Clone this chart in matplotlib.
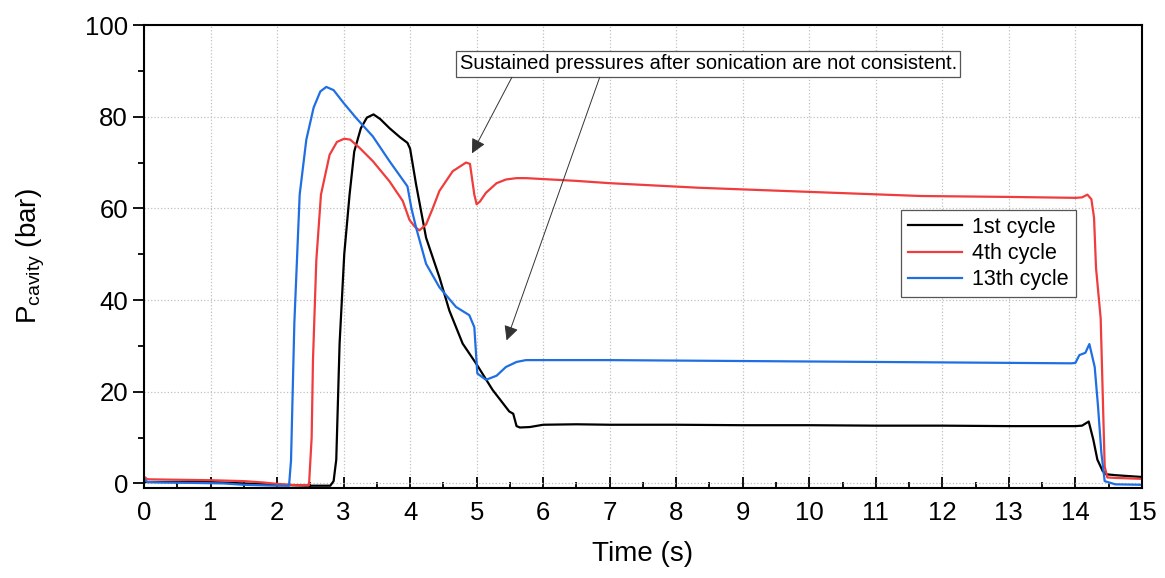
"""
Cavity pressure vs time for three sonication cycles.
"""

import matplotlib
matplotlib.use('Agg')

import matplotlib.pyplot as plt
from matplotlib.ticker import MultipleLocator

plt.rcParams['font.family'] = ['Liberation Sans', 'DejaVu Sans']
plt.rcParams['mathtext.default'] = 'regular'

# 1st cycle
t_1st = [0, 0.5, 1.0, 1.5, 2.0, 2.5, 2.8, 2.85, 2.89, 2.94, 3.01, 3.09, 3.16, 3.26,
         3.35, 3.45, 3.55, 3.69, 3.85, 3.96, 4.0, 4.09, 4.24, 4.44, 4.59, 4.79,
         4.99, 5.24, 5.49, 5.55, 5.6, 5.65, 5.8, 6.0, 6.5, 7, 8, 9, 10, 11, 12, 13,
         14.0, 14.1, 14.2, 14.27, 14.33, 14.41, 14.46, 14.6, 15]
p_1st = [0.3, 0.3, 0.3, 0.0, -0.3, -0.5, -0.5, 0.5, 5.2, 30.5, 50, 63, 72.4, 77.5,
         79.8, 80.5, 79.5, 77.5, 75.5, 74.3, 73, 65.2, 53.6, 45, 37.7, 30.5,
         26.2, 20.4, 15.7, 15.2, 12.5, 12.2, 12.3, 12.8, 12.9, 12.8, 12.8, 12.7, 12.7,
         12.6, 12.6, 12.5, 12.5, 12.6, 13.5, 9.5, 5.2, 2.7, 2.0, 1.8, 1.4]

# 4th cycle
t_4th = [0, 0.05, 0.5, 1.0, 1.5, 1.8, 2.0, 2.3, 2.48, 2.52, 2.54, 2.59, 2.66, 2.79,
         2.9, 3.01, 3.1, 3.24, 3.44, 3.69, 3.89, 3.99, 4.07, 4.14, 4.24, 4.34, 4.44,
         4.64, 4.84, 4.9, 4.965, 5.0, 5.05, 5.14, 5.3, 5.44, 5.6, 5.74, 6.5, 7,
         8.34, 10, 11.68, 13, 14.0, 14.1, 14.18, 14.24, 14.28, 14.31, 14.38, 14.44,
         14.48, 14.6, 15]
p_4th = [1.5, 0.9, 0.8, 0.7, 0.5, 0.2, -0.1, -0.4, -0.4, 10, 26.9, 48.6, 63, 71.7,
         74.5, 75.2, 75, 73.2, 70.3, 65.9, 61.6, 57.5, 56, 55.2, 56.5, 60, 63.8,
         68.1, 70, 69.7, 63, 60.9, 61.5, 63.4, 65.5, 66.3, 66.6, 66.6, 66, 65.5,
         64.5, 63.6, 62.7, 62.5, 62.3, 62.4, 63, 62, 58, 47, 36, 3.7,
         1.3, 1.2, 1.0]

# 13th cycle
t_13th = [0, 0.05, 0.3, 0.8, 1.2, 1.5, 2.0, 2.18, 2.21, 2.26, 2.34, 2.44, 2.55, 2.65,
          2.74, 2.85, 3.0, 3.19, 3.44, 3.69, 3.96, 4.02, 4.09, 4.24, 4.44, 4.69,
          4.89, 4.965, 5.01, 5.14, 5.3, 5.44, 5.6, 5.74, 6, 7, 8, 9, 10, 11, 12, 13,
          13.94, 14.0, 14.06, 14.15, 14.21, 14.29, 14.34, 14.39, 14.44, 14.6, 15]
p_13th = [1.0, 0.3, 0.2, 0.1, 0.0, -0.3, -0.5, -0.5, 5, 35, 63, 75, 82, 85.5,
          86.5, 85.8, 83, 79.7, 75.7, 70.3, 64.8, 60, 55.8, 47.9, 42.8, 38.5,
          36.7, 34.1, 24, 22.6, 23.5, 25.4, 26.5, 26.9, 26.9, 26.9, 26.8, 26.7, 26.6,
          26.5, 26.4, 26.3, 26.2, 26.3, 28, 28.5, 30.4, 25.4, 16.8, 6.7, 0.5, -0.2, -0.3]

labels = ['1st cycle', '4th cycle', '13th cycle']
colors = ['#000000', '#f03c3c', '#1f6fe3']

note = 'Sustained pressures after sonication are not consistent.'
note_pos = (8.48, 91.5)
arrow_tails = [(5.53, 88.6), (6.85, 88.6)]
arrow_heads = [(4.93, 72.0), (5.45, 31.2)]


def main():
    fig = plt.figure(figsize=(11.65, 5.78), dpi=100)
    ax = fig.add_axes([0.1236, 0.1557, 0.8566, 0.801])

    series = [(t_1st, p_1st), (t_4th, p_4th), (t_13th, p_13th)]
    for (t, p), lab, c in zip(series, labels, colors):
        ax.plot(t, p, color=c, lw=1.6, label=lab)

    ax.set_xlim(0, 15)
    ax.set_ylim(-1, 100)
    ax.xaxis.set_major_locator(MultipleLocator(1))
    ax.xaxis.set_minor_locator(MultipleLocator(0.5))
    ax.yaxis.set_major_locator(MultipleLocator(20))
    ax.yaxis.set_minor_locator(MultipleLocator(10))

    ax.grid(True, which='major', linestyle=':', color='#c0c0c0', lw=0.9)
    ax.tick_params(axis='x', which='major', direction='in', length=8, width=1.3,
                   labelsize=18.5, pad=9)
    ax.tick_params(axis='x', which='minor', direction='in', length=4, width=1.3)
    ax.tick_params(axis='y', which='major', direction='out', length=8, width=1.3,
                   labelsize=18.5)
    ax.tick_params(axis='y', which='minor', direction='out', length=4, width=1.3)
    for s in ax.spines.values():
        s.set_linewidth(1.5)

    ax.set_xlabel('Time (s)', fontsize=20, labelpad=12)
    ax.set_ylabel('P$_{cavity}$ (bar)', fontsize=20, labelpad=27)

    leg = ax.legend(loc='upper left', bbox_to_anchor=(0.759, 0.600), fontsize=15.5,
                    fancybox=False, edgecolor='#555555', framealpha=1,
                    handlelength=2.5, borderpad=0.3, labelspacing=0.25,
                    handletextpad=0.5, borderaxespad=0)
    leg.get_frame().set_linewidth(0.9)

    ax.text(note_pos[0], note_pos[1], note, fontsize=14.5, ha='center', va='center',
            bbox=dict(boxstyle='square,pad=0.18', fc='white', ec='#555555', lw=0.9))
    for tail, head in zip(arrow_tails, arrow_heads):
        ax.annotate('', xy=head, xytext=tail,
                    arrowprops=dict(arrowstyle='-|>', color='#333333', lw=0.7,
                                    mutation_scale=22, shrinkA=0, shrinkB=0))

    fig.savefig('out.png', dpi=100, facecolor='white')
    plt.close(fig)


if __name__ == "__main__":
    main()
